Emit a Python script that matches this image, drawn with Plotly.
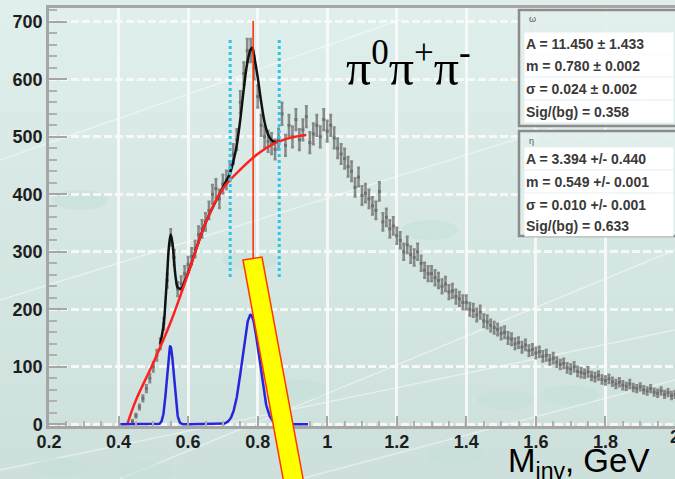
import numpy as np
import plotly.graph_objects as go

# ---- invariant-mass histogram of pi0 pi+ pi- (bin centres in GeV) ----
mass = np.round(np.arange(0.44, 2.0001, 0.01), 2)
counts = [
    5, 15, 30, 45, 62, 80, 100, 120, 140, 175,
    250, 325, 290, 235, 245, 262, 278, 292, 305, 330,
    340, 352, 372, 400, 410, 392, 418, 425, 440, 470,
    495, 560, 610, 650, 650, 620, 570, 520, 500, 492,
    488, 478, 496, 540, 485, 520, 500, 530, 495, 512,
    535, 490, 505, 520, 500, 530, 510, 520, 498, 480,
    470, 462, 448, 440, 412, 430, 398, 402, 392, 380,
    372, 405, 352, 360, 340, 345, 328, 320, 300, 312,
    295, 290, 300, 280, 268, 262, 262, 255, 250, 240,
    244, 230, 232, 222, 218, 212, 212, 200, 198, 190,
    195, 180, 178, 172, 168, 165, 158, 160, 150, 148,
    140, 142, 134, 138, 128, 130, 124, 126, 118, 120,
    112, 115, 108, 104, 106, 98, 96, 100, 92, 90,
    88, 91, 84, 82, 85, 78, 76, 79, 74, 70,
    73, 68, 66, 70, 64, 62, 65, 60, 58, 62,
    56, 54, 58, 52, 55, 50, 52,
]
errors = [
    2, 3, 4, 5, 6, 7, 8, 9, 9, 10,
    12, 14, 13, 12, 12, 13, 13, 14, 14, 14,
    15, 15, 15, 16, 16, 16, 16, 16, 17, 17,
    18, 19, 19, 20, 20, 20, 19, 18, 18, 18,
    18, 17, 18, 19, 18, 18, 18, 18, 18, 18,
    18, 18, 18, 18, 18, 18, 18, 18, 18, 17,
    17, 17, 17, 17, 16, 16, 16, 16, 16, 15,
    15, 16, 15, 15, 15, 15, 14, 14, 14, 14,
    14, 14, 14, 13, 13, 13, 13, 13, 13, 12,
    12, 12, 12, 12, 12, 12, 12, 11, 11, 11,
    11, 11, 11, 10, 10, 10, 10, 10, 10, 10,
    9, 9, 9, 9, 9, 9, 9, 9, 9, 9,
    8, 9, 8, 8, 8, 8, 8, 8, 8, 8,
    7, 8, 7, 7, 7, 7, 7, 7, 7, 7,
    7, 7, 6, 7, 6, 6, 6, 6, 6, 6,
    6, 6, 6, 6, 6, 6, 6,
]

# ---- background fit (red) ----
bg_mass = [0.425, 0.45, 0.50, 0.55, 0.60, 0.65, 0.70, 0.75, 0.80, 0.85, 0.90, 0.94]
bg_vals = [0, 42, 107, 178, 262, 350, 410, 443, 470, 489, 499, 503]

# ---- signal + background fit (black) ----
tot_mass = [0.52, 0.53, 0.535, 0.54, 0.545, 0.55, 0.555, 0.56, 0.565, 0.57, 0.58,
            0.59, 0.60, 0.65, 0.70, 0.72, 0.73, 0.74, 0.75, 0.76, 0.77, 0.78,
            0.785, 0.79, 0.80, 0.81, 0.82, 0.83, 0.84, 0.85, 0.86]
tot_vals = [140, 175, 215, 262, 310, 330, 315, 280, 252, 238, 236,
            248, 263, 350, 412, 436, 457, 486, 530, 583, 628, 652,
            655, 640, 604, 561, 525, 504, 494, 491, 492]

# ---- gaussian signal fit results ----
peak_names = ["ω", "η"]
peak_A = [11.450, 3.394]
peak_A_err = [1.433, 0.440]
peak_m = [0.780, 0.549]
peak_m_err = [0.002, 0.001]
peak_sigma = [0.024, 0.010]
peak_sigma_err = [0.002, 0.001]
sig_over_bg = [0.358, 0.633]
pm_symbol = ["±", "+/-"]

# axis tick labels
x_ticks = [0.2, 0.4, 0.6, 0.8, 1.0, 1.2, 1.4, 1.6, 1.8]
x_labels = ["0.2", "0.4", "0.6", "0.8", "1", "1.2", "1.4", "1.6", "1.8"]
x_edge_label = "2"
y_ticks = [0, 100, 200, 300, 400, 500, 600, 700]
y_labels = ["0", "100", "200", "300", "400", "500", "600", "700"]

# signal curves evaluated over the fit range
sig_x = np.linspace(0.405, 0.945, 600)
sig_y = np.zeros_like(sig_x)
for A, m, s in zip(peak_A, peak_m, peak_sigma):
    sig_y += A / (np.sqrt(2 * np.pi) * s) * np.exp(-0.5 * ((sig_x - m) / s) ** 2)

# ---- geometry helpers (plot area: 49..675 px wide, 8..426 px tall) ----
L, T, W, H = 49, 8, 626, 418


def px(x):
    return (x - L) / W


def py(y):
    return (T + H - y) / H


fig = go.Figure()

fig.add_trace(go.Scatter(
    x=mass, y=counts, mode="markers",
    marker=dict(symbol="square", size=3, color="#707070"),
    error_y=dict(type="data", array=errors, color="rgba(120,120,120,0.85)",
                 thickness=2.5, width=1.5),
    showlegend=False, hoverinfo="skip",
))
fig.add_trace(go.Scatter(
    x=tot_mass, y=tot_vals, mode="lines", line=dict(color="#111111", width=2.5, shape="spline"),
    showlegend=False,
))
fig.add_trace(go.Scatter(
    x=bg_mass, y=bg_vals, mode="lines", line=dict(color="#ff2020", width=2.5, shape="spline"),
    showlegend=False,
))
fig.add_trace(go.Scatter(
    x=sig_x, y=sig_y, mode="lines", line=dict(color="#2626dc", width=2.5),
    showlegend=False,
))

shapes = []

# soft background gradient
top_c = np.array([224, 239, 236])
bot_c = np.array([205, 224, 220])
nb = 16
for i in range(nb):
    c = top_c + (bot_c - top_c) * i / (nb - 1)
    y0 = -10 + 489 * i / nb
    y1 = -10 + 489 * (i + 1) / nb + 1
    shapes.append(dict(type="rect", xref="paper", yref="paper", layer="below",
                       x0=px(-10), x1=px(690), y0=py(y1), y1=py(y0),
                       line=dict(width=0), fillcolor="rgb(%d,%d,%d)" % tuple(c)))

# faint decorative streaks and blobs of the slide background
for (x0, y0, x1, y1) in [(0, 300, 675, 90), (0, 470, 675, 330), (120, 479, 675, 250),
                         (0, 160, 400, 20), (300, 479, 675, 380)]:
    shapes.append(dict(type="line", xref="paper", yref="paper", layer="below",
                       x0=px(x0), y0=py(y0), x1=px(x1), y1=py(y1),
                       line=dict(color="rgba(255,255,255,0.45)", width=1.5)))
for (cx, cy) in [(60, 468), (145, 472), (455, 455), (505, 400), (570, 395),
                 (250, 260), (430, 230), (640, 200), (80, 200), (300, 390)]:
    shapes.append(dict(type="circle", xref="paper", yref="paper", layer="below",
                       x0=px(cx - 28), x1=px(cx + 28), y0=py(cy + 10), y1=py(cy - 10),
                       line=dict(width=0), fillcolor="rgba(196,222,216,0.55)"))

# integration window for the omega peak
for xv in [0.721, 0.862]:
    shapes.append(dict(type="line", xref="x", yref="y", x0=xv, x1=xv, y0=256, y1=673,
                       line=dict(color="#2ec4f0", width=3, dash="dot")))

# marker line at the omega mass
shapes.append(dict(type="line", xref="x", yref="y", x0=0.787, x1=0.787, y0=288, y1=702,
                   line=dict(color="#ff2a00", width=1.5)))

# yellow pointer bar
bar = [(243, 260), (262, 257), (307, 500), (287, 500)]
path = "M " + " L ".join("%f,%f" % (px(a), py(b)) for a, b in bar) + " Z"
shapes.append(dict(type="path", xref="paper", yref="paper", path=path,
                   fillcolor="#ffff00", line=dict(color="#ff3a00", width=1.5), layer="above"))

# fit result boxes
box_top = [10, 131]
box_bot = [126, 236]
for t, b in zip(box_top, box_bot):
    shapes.append(dict(type="rect", xref="paper", yref="paper",
                       x0=px(519), x1=px(700), y0=py(b), y1=py(t),
                       line=dict(color="#8c8c8c", width=2.5),
                       fillcolor="rgba(226,239,236,0.85)", layer="above"))

annotations = []
row_y = [[43, 66, 89, 112], [158, 181, 204, 226]]
title_y = [19, 141]
for k in range(2):
    pm = pm_symbol[k]
    rows = [
        "A = %.3f %s %.3f" % (peak_A[k], pm, peak_A_err[k]),
        "m = %.3f %s %.3f" % (peak_m[k], pm, peak_m_err[k]),
        "σ = %.3f %s %.3f" % (peak_sigma[k], pm, peak_sigma_err[k]),
        "Sig/(bg) = %.3f" % sig_over_bg[k],
    ]
    annotations.append(dict(xref="paper", yref="paper", x=px(527), y=py(title_y[k]),
                            xanchor="left", yanchor="middle", showarrow=False,
                            text=peak_names[k],
                            font=dict(family="Liberation Sans", size=9, color="#555")))
    for txt, yy in zip(rows, row_y[k]):
        annotations.append(dict(xref="paper", yref="paper", x=px(524), y=py(yy),
                                xanchor="left", yanchor="middle", showarrow=False,
                                text="<b>%s</b>" % txt, align="left", width=146, height=19,
                                bgcolor="white",
                                font=dict(family="Liberation Sans", size=14, color="#3a3a3a")))

annotations.append(dict(xref="paper", yref="paper", x=px(408), y=py(64),
                        xanchor="center", yanchor="middle", showarrow=False,
                        text="π<sup>0</sup>π<sup>+</sup>π<sup>-</sup>",
                        font=dict(family="Liberation Serif", size=50, color="black")))
annotations.append(dict(xref="paper", yref="paper", x=px(506), y=py(463),
                        xanchor="left", yanchor="middle", showarrow=False,
                        text="M<sub>inv</sub>, GeV",
                        font=dict(family="Liberation Sans", size=33, color="black")))

tick_font = dict(family="Liberation Sans", size=18, color="#1e1e1e")

# last x tick label sits on the right edge of the page
annotations.append(dict(xref="x", yref="paper", x=2.0, y=py(437),
                        xanchor="center", yanchor="middle", showarrow=False,
                        text="<b>%s</b>" % x_edge_label, font=tick_font))

fig.update_layout(
    width=675, height=479,
    margin=dict(l=L, r=0, t=T, b=479 - T - H, pad=0),
    paper_bgcolor="#d6e7e3",
    plot_bgcolor="rgba(0,0,0,0)",
    shapes=shapes,
    annotations=annotations,
    xaxis=dict(range=[0.2, 2.0],
               tickmode="array", tickvals=x_ticks,
               ticktext=["<b>%s</b>" % t for t in x_labels],
               showline=True, linecolor="#a6a6a6", linewidth=2.5, mirror=True,
               ticks="inside", ticklen=10, tickwidth=2, tickcolor="#a6a6a6",
               ticklabelstandoff=-2,
               minor=dict(dtick=0.05, tick0=0.2, ticks="inside", ticklen=5, tickwidth=2,
                          tickcolor="#b0b0b0", showgrid=False),
               showgrid=True, gridcolor="rgba(250,250,250,0.9)", gridwidth=3,
               tickfont=tick_font, zeroline=False, fixedrange=True),
    yaxis=dict(range=[-3, 724],
               tickmode="array", tickvals=y_ticks,
               ticktext=["<b>%s</b>" % t for t in y_labels],
               showline=True, linecolor="#a6a6a6", linewidth=2.5,
               ticks="inside", ticklen=18, tickwidth=2, tickcolor="#a6a6a6",
               minor=dict(dtick=20, tick0=0, ticks="inside", ticklen=8, tickwidth=2,
                          tickcolor="#b0b0b0", showgrid=False),
               showgrid=True, gridcolor="rgba(250,250,250,0.9)", gridwidth=3, griddash="8px,3px",
               tickfont=tick_font, zeroline=False, fixedrange=True),
)

fig.write_html("out.html")
